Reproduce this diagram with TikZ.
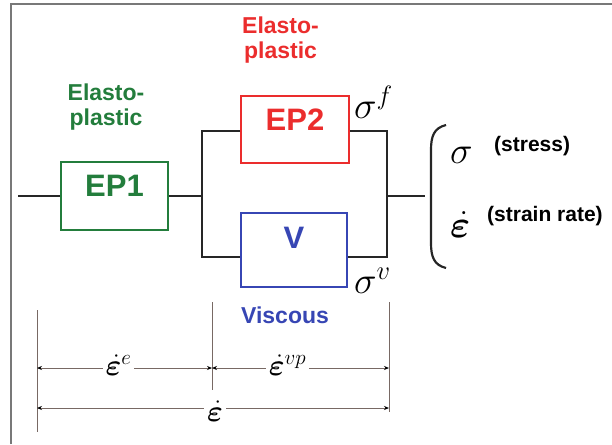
\RequirePackage{fix-cm}
\documentclass[tikz,border=0pt]{standalone}
\usepackage{bm}
\usepackage{fontspec}
\setmainfont{Liberation Sans}
\usetikzlibrary{arrows.meta}
\definecolor{epgreen}{RGB}{35,125,60}
\definecolor{epred}{RGB}{235,45,45}
\definecolor{vblue}{RGB}{55,70,180}
\definecolor{framegray}{RGB}{120,120,120}
\definecolor{dimgray}{RGB}{120,105,100}
\tikzset{
  box/.style={draw, line width=1.8pt, minimum width=#1, inner sep=0pt},
  boxtext/.style={font=\fontsize{31}{34}\selectfont\bfseries, inner sep=0pt},
  caption/.style={font=\fontsize{23}{25}\selectfont\bfseries, align=center, inner sep=0pt},
  wire/.style={line width=2.6pt, black!85},
  sig/.style={font=\fontsize{38}{42}\selectfont, inner sep=0pt, anchor=base west},
  note/.style={font=\fontsize{21}{24}\selectfont\bfseries, inner sep=0pt, anchor=base west},
  dimline/.style={line width=0.9pt, dimgray},
  dimarrow/.style={dimline, {Stealth[length=5pt,width=4pt,black]}-{Stealth[length=5pt,width=4pt,black]}},
  dimlabel/.style={font=\fontsize{30}{32}\selectfont, fill=white, text=black, inner sep=3pt},
}
\begin{document}
\begin{tikzpicture}[x=1pt,y=-1pt]
\useasboundingbox (0,0) rectangle (612,444);
% frame
\draw[framegray, line width=1.6pt] (11,444) -- (11,4) -- (612,4);

% boxes
\node[box=107pt, minimum height=68pt, epgreen] (EP1) at (114.5,196) {};
\node[boxtext, text=epgreen] (EP1t) at ([yshift=10pt]EP1.center) {EP1};
\node[box=108pt, minimum height=67pt, epred] (EP2) at (295,129.5) {};
\node[boxtext, text=epred] (EP2t) at ([yshift=9.5pt]EP2.center) {EP2};
\node[box=106pt, minimum height=74pt, vblue] (V) at (294,250) {};
\node[boxtext, text=vblue] (Vt) at ([yshift=12pt]V.center) {V};

% captions
\node[caption, text=epgreen] (capG) at (106,107) {Elasto-\\plastic};
\node[caption, text=epred] (capR) at (280.5,40) {Elasto-\\plastic};
\node[caption, text=vblue, anchor=center] (capV) at (285,315) {Viscous};

% wiring
\coordinate (in) at (18,196);
\coordinate (jl) at (202,196);
\coordinate (jlt) at (202,131);
\coordinate (jlb) at (202,257);
\coordinate (jrt) at (387,131);
\coordinate (jrb) at (387,257);
\coordinate (jr) at (387,196);
\coordinate (out) at (425,196);
\draw[wire] (in) -- (EP1.west);
\draw[wire] (EP1.east) -- (jl);
\draw[wire] (EP2.west |- jlt) -- (jlt) -- (jlb) -- (V.west |- jlb);
\draw[wire] (EP2.east |- jrt) -- (jrt) -- (jrb) -- (V.east |- jrb);
\draw[wire] (jr) -- (out);

% stresses
\node[sig] (sf) at (354,118) {$\sigma^{f}$};
\node[sig] (sv) at (354,293) {$\sigma^{v}$};

% brace
\draw[line width=2.2pt, black!85] (446,125) .. controls (434,128) and (431,136) .. (431,150)
  -- (431,243) .. controls (431,257) and (434,265) .. (446,268);
\node[sig] (sig) at (450,163) {$\sigma$};
\node[note] (stress) at (494,151) {(stress)};
\node[sig] (eps) at (450,237) {$\dot{\bm{\varepsilon}}$};
\node[note] (srate) at (487,221) {(strain rate)};

% dimension lines
\coordinate (d1t) at (37,310);  \coordinate (d1b) at (37,432);
\coordinate (d2t) at (212,302); \coordinate (d2b) at (212,390);
\coordinate (d3t) at (389,302); \coordinate (d3b) at (389,412);
\draw[dimline] (d1t) -- (d1b);
\draw[dimline] (d2t) -- (d2b);
\draw[dimline] (d3t) -- (d3b);
\draw[dimarrow] (d1t |- 0,368) -- (d2t |- 0,368) node[midway, dimlabel, xshift=-6pt, yshift=3pt] (le) {$\dot{\bm{\varepsilon}}^{e}$};
\draw[dimarrow] (d2t |- 0,368) -- (d3t |- 0,368) node[midway, dimlabel, xshift=-13pt, yshift=3pt] (lvp) {$\dot{\bm{\varepsilon}}^{vp}$};
\draw[dimarrow] (d1t |- 0,408) -- (d3t |- 0,408) node[midway, dimlabel, xshift=2pt, yshift=-3pt] (lt) {$\dot{\bm{\varepsilon}}$};
\end{tikzpicture}
\end{document}
